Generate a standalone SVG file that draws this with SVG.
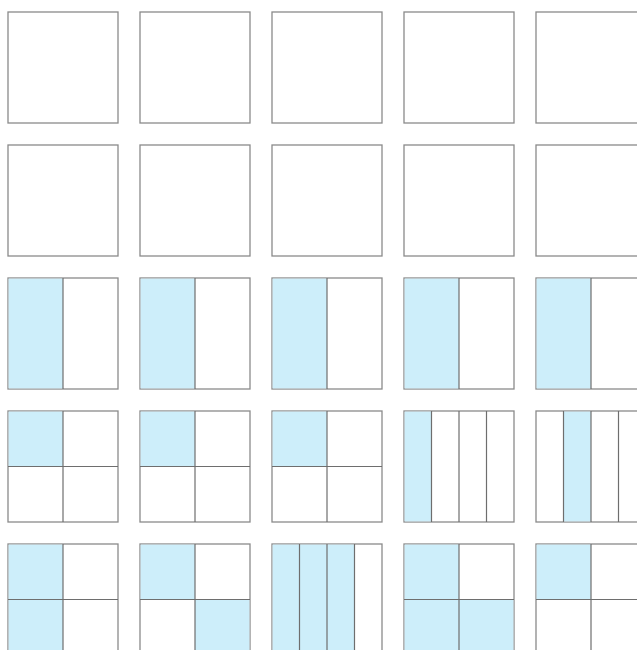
<svg xmlns="http://www.w3.org/2000/svg" width="637" height="650" viewBox="0 0 637 650">
<style>
.box{fill:#fff;stroke:#8a8a8a;stroke-width:1.3}
.sh{fill:#cdeefa;stroke:none}
.dv{stroke:#6e6e6e;stroke-width:1.2;fill:none}
</style>
<defs>
<rect id="sq" class="box" x="0" y="0" width="110" height="111"/>
</defs>
<rect width="637" height="650" fill="#fff"/>
<!-- row 1 -->
<g id="r1c1" transform="translate(8,12)"><use href="#sq"/></g>
<g id="r1c2" transform="translate(140,12)"><use href="#sq"/></g>
<g id="r1c3" transform="translate(272,12)"><use href="#sq"/></g>
<g id="r1c4" transform="translate(404,12)"><use href="#sq"/></g>
<g id="r1c5" transform="translate(536,12)"><use href="#sq"/></g>
<!-- row 2 -->
<g id="r2c1" transform="translate(8,145)"><use href="#sq"/></g>
<g id="r2c2" transform="translate(140,145)"><use href="#sq"/></g>
<g id="r2c3" transform="translate(272,145)"><use href="#sq"/></g>
<g id="r2c4" transform="translate(404,145)"><use href="#sq"/></g>
<g id="r2c5" transform="translate(536,145)"><use href="#sq"/></g>
<!-- row 3: halves -->
<g id="r3c1" transform="translate(8,278)"><use href="#sq"/><rect class="sh" x="0.6" y="0.6" width="54.4" height="109.8"/><line class="dv" x1="55" y1="0" x2="55" y2="111"/></g>
<g id="r3c2" transform="translate(140,278)"><use href="#sq"/><rect class="sh" x="0.6" y="0.6" width="54.4" height="109.8"/><line class="dv" x1="55" y1="0" x2="55" y2="111"/></g>
<g id="r3c3" transform="translate(272,278)"><use href="#sq"/><rect class="sh" x="0.6" y="0.6" width="54.4" height="109.8"/><line class="dv" x1="55" y1="0" x2="55" y2="111"/></g>
<g id="r3c4" transform="translate(404,278)"><use href="#sq"/><rect class="sh" x="0.6" y="0.6" width="54.4" height="109.8"/><line class="dv" x1="55" y1="0" x2="55" y2="111"/></g>
<g id="r3c5" transform="translate(536,278)"><use href="#sq"/><rect class="sh" x="0.6" y="0.6" width="54.4" height="109.8"/><line class="dv" x1="55" y1="0" x2="55" y2="111"/></g>
<!-- row 4 -->
<g id="r4c1" transform="translate(8,411)"><use href="#sq"/><rect class="sh" x="0.6" y="0.6" width="54.4" height="54.9"/><line class="dv" x1="55" y1="0" x2="55" y2="111"/><line class="dv" x1="0" y1="55.5" x2="110" y2="55.5"/></g>
<g id="r4c2" transform="translate(140,411)"><use href="#sq"/><rect class="sh" x="0.6" y="0.6" width="54.4" height="54.9"/><line class="dv" x1="55" y1="0" x2="55" y2="111"/><line class="dv" x1="0" y1="55.5" x2="110" y2="55.5"/></g>
<g id="r4c3" transform="translate(272,411)"><use href="#sq"/><rect class="sh" x="0.6" y="0.6" width="54.4" height="54.9"/><line class="dv" x1="55" y1="0" x2="55" y2="111"/><line class="dv" x1="0" y1="55.5" x2="110" y2="55.5"/></g>
<g id="r4c4" transform="translate(404,411)"><use href="#sq"/><rect class="sh" x="0.6" y="0.6" width="26.9" height="109.8"/><line class="dv" x1="27.5" y1="0" x2="27.5" y2="111"/><line class="dv" x1="55" y1="0" x2="55" y2="111"/><line class="dv" x1="82.5" y1="0" x2="82.5" y2="111"/></g>
<g id="r4c5" transform="translate(536,411)"><use href="#sq"/><rect class="sh" x="27.5" y="0.6" width="27.5" height="109.8"/><line class="dv" x1="27.5" y1="0" x2="27.5" y2="111"/><line class="dv" x1="55" y1="0" x2="55" y2="111"/><line class="dv" x1="82.5" y1="0" x2="82.5" y2="111"/></g>
<!-- row 5 -->
<g id="r5c1" transform="translate(8,544)"><use href="#sq"/><rect class="sh" x="0.6" y="0.6" width="54.4" height="109.8"/><line class="dv" x1="55" y1="0" x2="55" y2="111"/><line class="dv" x1="0" y1="55.5" x2="110" y2="55.5"/></g>
<g id="r5c2" transform="translate(140,544)"><use href="#sq"/><rect class="sh" x="0.6" y="0.6" width="54.4" height="54.9"/><rect class="sh" x="55" y="55.5" width="54.4" height="54.9"/><line class="dv" x1="55" y1="0" x2="55" y2="111"/><line class="dv" x1="0" y1="55.5" x2="110" y2="55.5"/></g>
<g id="r5c3" transform="translate(272,544)"><use href="#sq"/><rect class="sh" x="0.6" y="0.6" width="81.9" height="109.8"/><line class="dv" x1="27.5" y1="0" x2="27.5" y2="111"/><line class="dv" x1="55" y1="0" x2="55" y2="111"/><line class="dv" x1="82.5" y1="0" x2="82.5" y2="111"/></g>
<g id="r5c4" transform="translate(404,544)"><use href="#sq"/><rect class="sh" x="0.6" y="0.6" width="54.4" height="109.8"/><rect class="sh" x="55" y="55.5" width="54.4" height="54.9"/><line class="dv" x1="55" y1="0" x2="55" y2="111"/><line class="dv" x1="0" y1="55.5" x2="110" y2="55.5"/></g>
<g id="r5c5" transform="translate(536,544)"><use href="#sq"/><rect class="sh" x="0.6" y="0.6" width="54.4" height="54.9"/><line class="dv" x1="55" y1="0" x2="55" y2="111"/><line class="dv" x1="0" y1="55.5" x2="110" y2="55.5"/></g>
<g id="connectors"></g>
</svg>
